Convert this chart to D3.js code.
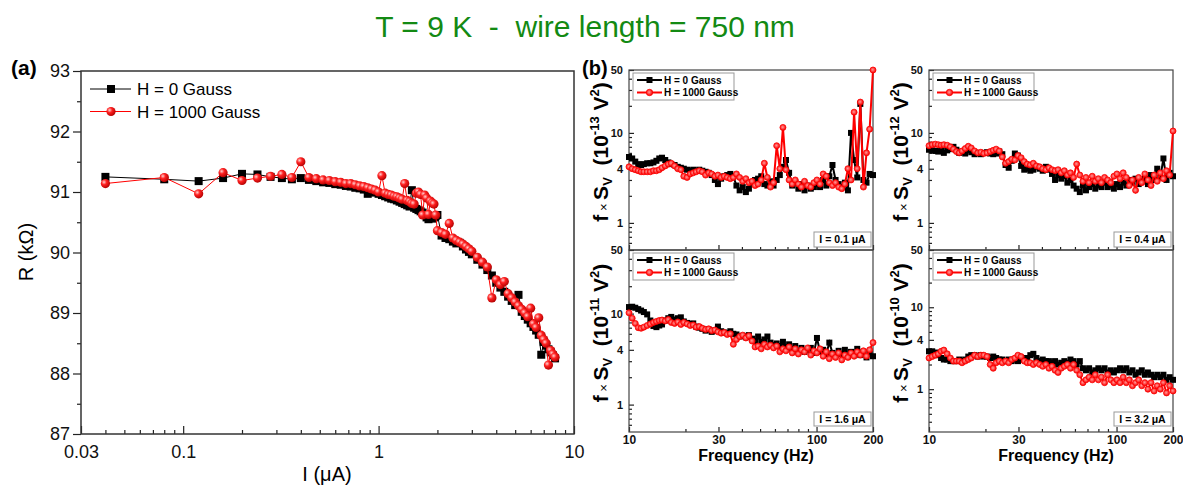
<!DOCTYPE html>
<html>
<head>
<meta charset="utf-8">
<script src="https://cdnjs.cloudflare.com/ajax/libs/d3/7.8.5/d3.min.js"></script>
<style>
  body { margin: 0; background: #fff; }
  svg { font-family: Arial, "Liberation Sans", sans-serif; }
  text { white-space: pre; }
</style>
</head>
<body>
<svg id="chart" width="1183" height="487"></svg>
<script>
// ---- panel (a): resistance vs current
const currentA = [
  0.04, 0.08, 0.12, 0.16, 0.20, 0.24, 0.28, 0.32, 0.36, 0.40,
  0.44, 0.48, 0.52, 0.56, 0.60, 0.64, 0.68, 0.72, 0.76, 0.80,
  0.84, 0.88, 0.92, 0.96, 1.00, 1.04, 1.08, 1.12, 1.16, 1.20,
  1.24, 1.28, 1.32, 1.36, 1.40, 1.44, 1.48, 1.52, 1.56, 1.60,
  1.64, 1.68, 1.72, 1.76, 1.80, 1.84, 1.88, 1.92, 1.96, 2.00,
  2.1, 2.2, 2.3, 2.4, 2.5, 2.6, 2.7, 2.8, 2.9, 3.0,
  3.2, 3.4, 3.6, 3.8, 4.0, 4.2, 4.4, 4.6, 4.8, 5.0,
  5.2, 5.4, 5.6, 5.8, 6.0, 6.2, 6.4, 6.6, 6.8, 7.0,
  7.2, 7.4, 7.6, 7.8, 8.0
];
const rZeroField = [
  91.25, 91.21, 91.18, 91.23, 91.30, 91.29, 91.25, 91.23, 91.21, 91.23,
  91.20, 91.18, 91.16, 91.15, 91.13, 91.12, 91.10, 91.09, 91.07, 91.06,
  91.04, 90.97, 91.01, 90.99, 90.97, 90.95, 90.93, 90.91, 90.89, 90.88,
  90.86, 90.84, 90.82, 90.80, 90.78, 90.76, 91.03, 90.74, 90.72, 90.70,
  90.68, 90.66, 90.62, 90.58, 90.55, 90.57, 90.56, 90.58, 90.60, 90.62,
  90.28, 90.24, 90.22, 90.18, 90.15, 90.16, 90.10, 90.05, 90.01, 89.97,
  89.88, 89.80, 89.71, 89.62, 89.50, 89.42, 89.35, 89.27, 89.20, 89.13,
  89.30, 89.02, 88.95, 88.89, 88.83, 88.77, 88.71, 88.64, 88.31, 88.52,
  88.46, 88.40, 88.35, 88.30, 88.25
];
const rHighField = [
  91.14, 91.24, 90.97, 91.32, 91.19, 91.23, 91.26, 91.29, 91.24, 91.50,
  91.24, 91.22, 91.20, 91.19, 91.17, 91.16, 91.14, 91.14, 91.12, 91.10,
  91.09, 91.07, 91.05, 91.03, 91.00, 91.27, 90.98, 90.96, 90.95, 90.93,
  90.92, 90.90, 90.88, 91.14, 90.86, 90.84, 90.81, 90.80, 90.98, 91.00,
  90.96, 90.62, 90.95, 90.90, 90.63, 90.85, 90.82, 90.80, 90.62, 90.36,
  90.33, 90.30, 90.48, 90.24, 90.20, 90.17, 90.14, 90.10, 90.06, 90.02,
  89.92, 89.84, 89.76, 89.25, 89.55, 89.47, 89.52, 89.32, 89.25, 89.18,
  89.12, 89.06, 89.00, 88.94, 89.08, 88.82, 88.76, 88.92, 88.63, 88.56,
  88.50, 88.14, 88.38, 88.32, 88.27
];
const xTicksA = [0.03, 0.1, 1, 10];
const xMinorA = [0.04, 0.05, 0.06, 0.07, 0.08, 0.09, 0.2, 0.3, 0.4, 0.5, 0.6, 0.7, 0.8, 0.9, 2, 3, 4, 5, 6, 7, 8, 9];
const yTicksA = [87, 88, 89, 90, 91, 92, 93];
const yMinorA = [87.5, 88.5, 89.5, 90.5, 91.5, 92.5];
const legendLabels = ["H = 0 Gauss", "H = 1000 Gauss"];

// ---- panel (b): noise spectra
const freqHz = [
  10.0, 10.4, 10.8, 11.2, 11.6, 12.0, 12.5, 13.0, 13.5, 14.0,
  14.5, 15.0, 15.6, 16.2, 16.8, 17.5, 18.2, 18.9, 19.6, 20.4,
  21.2, 22.0, 22.8, 23.7, 24.6, 25.6, 26.6, 27.6, 28.7, 29.8,
  31.0, 32.2, 33.4, 34.7, 36.0, 37.4, 38.9, 40.4, 42.0, 43.6,
  45.3, 47.0, 48.8, 50.7, 52.7, 54.7, 56.8, 59.0, 61.3, 63.7,
  66.2, 68.7, 71.4, 74.2, 77.0, 80.0, 83.1, 86.3, 89.7, 93.2,
  96.8, 100.5, 104.4, 108.5, 112.7, 117.0, 121.6, 126.3, 131.2, 136.3,
  141.6, 147.0, 152.7, 158.6, 164.8, 171.2, 177.8, 184.7, 191.9, 200
];
// I = 0.1 uA  (x 1e-13 V^2)
const sv01Zero = [
  5.4, 5.2, 4.8, 4.5, 4.4, 4.5, 4.6, 4.6, 4.7, 4.9,
  5.2, 5.3, 5.0, 4.7, 4.5, 4.4, 4.2, 4.1, 4.0, 3.9,
  3.8, 3.9, 3.8, 3.9, 3.8, 3.7, 3.6, 3.4, 3.0, 2.7,
  3.1, 3.3, 3.4, 3.5, 3.3, 2.6, 2.3, 2.5, 2.2, 2.4,
  2.8, 3.0, 3.1, 3.3, 2.7, 2.6, 2.9, 2.6, 3.0, 3.4,
  4.2, 5.0, 3.6, 2.6, 2.8, 2.4, 2.7, 2.3, 2.6, 2.4,
  2.5, 2.7, 2.5, 3.0, 2.6, 3.3, 4.4, 3.0, 2.7, 2.5,
  2.8, 2.3, 10.0, 5.0, 3.2, 21, 3.0, 2.8, 3.5, 3.4
];
const sv01Field = [
  4.2, 4.0, 3.9, 3.8, 3.7, 3.7, 3.7, 3.7, 3.8, 3.8,
  3.9, 4.1, 4.3, 4.5, 4.6, 4.3, 4.0, 3.9, 3.3, 3.2,
  3.5, 3.6, 3.7, 3.8, 3.7, 3.4, 3.6, 3.5, 3.3, 3.4,
  3.2, 3.3, 3.2, 3.1, 3.2, 3.5, 3.2, 2.9, 3.1, 2.8,
  2.9, 2.6, 2.7, 3.0, 4.6, 3.2, 2.5, 2.8, 7.2, 4.0,
  11.5, 3.9, 3.0, 2.7, 3.0, 2.7, 2.5, 2.9, 2.6, 2.5,
  2.8, 3.0, 2.7, 3.5, 3.3, 2.8, 2.6, 2.8, 2.5, 2.4,
  2.7, 4.0, 3.0, 17, 4.0, 22, 2.5, 6.0, 11, 50
];
// I = 0.4 uA  (x 1e-12 V^2)
const sv04Zero = [
  6.5, 6.4, 6.3, 6.2, 6.3, 6.0, 6.4, 6.6, 7.0, 6.5,
  6.0, 6.2, 5.9, 6.4, 6.1, 5.8, 6.0, 5.8, 6.0, 6.1,
  5.9, 5.8, 5.9, 6.2, 5.8, 4.4, 4.1, 4.9, 5.9, 5.6,
  4.3, 3.9, 4.0, 3.8, 3.9, 4.2, 4.0, 3.8, 4.2, 3.9,
  3.5, 3.0, 3.4, 3.1, 3.3, 2.8, 3.0, 2.6, 2.4, 2.2,
  2.6, 2.3, 2.5, 2.7, 2.4, 2.6, 2.5, 2.8, 2.5, 2.6,
  2.4, 2.7, 2.5, 2.8, 2.6, 3.0, 2.8, 3.1, 2.7, 2.9,
  3.1, 2.7, 3.4, 3.0, 4.0, 3.2, 5.2, 3.0, 3.6, 3.3
];
const sv04Field = [
  7.2, 7.4, 7.5, 7.4, 7.3, 7.4, 7.3, 7.0, 6.6, 6.2,
  6.0, 6.3, 6.7, 7.1, 6.8, 6.3, 6.0, 6.1, 5.9, 6.0,
  6.2, 6.4, 6.6, 6.3, 5.4, 4.6, 4.8, 5.1, 5.0, 5.6,
  5.3, 4.8, 4.5, 4.4, 4.6, 4.3, 4.2, 4.0, 3.9, 4.1,
  3.9, 3.8, 3.9, 3.6, 3.8, 3.4, 3.6, 3.2, 4.5, 3.4,
  2.9, 3.2, 2.8, 3.3, 2.9, 3.1, 2.8, 3.2, 3.0, 2.8,
  3.3, 3.5, 3.1, 3.6, 3.2, 2.6, 3.0, 2.3, 3.2, 2.8,
  3.5, 3.0, 2.6, 3.4, 2.9, 3.6, 3.1, 3.8, 3.4, 10.5
];
// I = 1.6 uA  (x 1e-11 V^2)
const sv16Zero = [
  11.8, 11.9, 11.6, 11.2, 10.8, 10.4, 9.8, 8.4, 7.3, 7.1,
  7.4, 7.6, 8.4, 8.9, 9.2, 8.6, 8.9, 9.1, 8.2, 7.9,
  7.7, 7.8, 7.2, 7.0, 6.8, 6.5, 6.7, 6.3, 6.5, 7.2,
  6.4, 6.2, 6.1, 6.4, 6.0, 5.9, 5.6, 5.7, 5.5, 5.8,
  5.3, 5.0, 5.6, 4.9, 5.2, 5.6, 4.8, 4.5, 4.7, 4.4,
  4.9, 4.3, 4.6, 4.1, 4.4, 3.9, 4.2, 3.8, 4.0, 4.2,
  3.7, 5.4, 3.8, 4.0, 3.6, 4.8, 3.7, 3.5, 3.9, 3.6,
  4.0, 3.4, 3.8, 3.6, 4.1, 3.5, 3.8, 3.3, 3.6, 3.4
];
const sv16Field = [
  10.2, 8.9, 7.8, 7.0, 6.9, 7.1, 7.4, 7.7, 8.0, 8.2,
  8.4, 8.5, 8.3, 8.6, 8.0, 7.8, 8.1, 7.6, 8.0, 7.7,
  7.4, 7.5, 7.1, 7.2, 6.9, 6.7, 6.8, 6.5, 6.6, 6.3,
  6.1, 6.2, 5.9, 6.0, 4.6, 5.2, 5.6, 5.8, 5.4, 5.7,
  5.0, 4.3, 4.4, 4.1, 4.6, 4.3, 4.5, 4.2, 4.4, 3.8,
  4.1, 3.9, 4.3, 3.7, 4.1, 3.6, 4.0, 3.8, 4.2, 3.5,
  3.9, 3.7, 4.1, 3.4, 3.8, 3.2, 3.6, 3.3, 3.7, 3.1,
  3.5, 3.3, 3.7, 3.4, 3.8, 3.5, 3.9, 3.4, 4.0, 4.8
];
// I = 3.2 uA  (x 1e-10 V^2)
const sv32Zero = [
  2.9, 2.9, 2.8, 2.6, 2.4, 2.3, 2.3, 2.2, 2.2, 2.2,
  2.3, 2.2, 2.3, 2.5, 2.6, 2.6, 2.5, 2.6, 2.5, 2.5,
  2.4, 2.5, 2.4, 2.3, 2.3, 2.2, 2.3, 2.2, 2.3, 2.2,
  2.3, 2.4, 2.4, 2.6, 2.7, 2.4, 2.2, 2.3, 2.2, 2.2,
  2.1, 2.2, 2.0, 2.1, 2.2, 2.1, 2.3, 2.2, 2.0, 2.2,
  1.8, 1.7, 1.8, 1.6, 1.7, 1.8, 1.7, 1.8, 1.6, 1.7,
  1.6, 1.7, 1.8, 1.7, 1.8, 1.6, 1.7, 1.5, 1.6, 1.7,
  1.5, 1.6, 1.5, 1.4, 1.5, 1.4, 1.5, 1.3, 1.4, 1.3
];
const sv32Field = [
  2.4, 2.5, 2.6, 2.7, 2.9, 3.0, 2.7, 2.4, 2.2, 2.2,
  2.2, 2.1, 2.2, 2.3, 2.4, 2.6, 2.5, 2.6, 2.6, 2.5,
  2.0, 1.8, 2.1, 2.2, 2.1, 2.2, 2.1, 2.3, 2.4, 2.6,
  2.5, 2.2, 2.1, 2.1, 2.0, 2.1, 2.0, 1.9, 2.0, 1.8,
  1.9, 1.7, 1.6, 1.8, 1.9, 2.0, 1.8, 2.0, 1.7, 1.5,
  1.2, 1.3, 1.4, 1.3, 1.5, 1.3, 1.4, 1.2, 1.5, 1.3,
  1.2, 1.3, 1.2, 1.4, 1.2, 1.3, 1.1, 1.2, 1.3, 1.1,
  1.2, 1.0, 1.2, 0.95, 1.1, 1.0, 1.2, 0.9, 1.1, 0.95
];
const currentLabels = ["I = 0.1 μA", "I = 0.4 μA", "I = 1.6 μA", "I = 3.2 μA"];
const unitExponents = ["-13", "-12", "-11", "-10"];
const xTicksB = [10, 30, 100, 200];
const xMinorB = [20, 40, 50, 60, 70, 80, 90];
const yTicksB = [1, 4, 10, 50];
const yMinorB = [0.3, 0.4, 0.5, 0.6, 0.7, 0.8, 0.9, 2, 3, 5, 6, 7, 8, 9, 20, 30, 40];

const svg = d3.select("#chart");
const defs = svg.append("defs");
const ball = defs.append("radialGradient").attr("id", "ballA")
  .attr("cx", "35%").attr("cy", "35%").attr("r", "70%");
ball.append("stop").attr("offset", "0%").attr("stop-color", "#ffd0d0");
ball.append("stop").attr("offset", "40%").attr("stop-color", "#ff2020");
ball.append("stop").attr("offset", "100%").attr("stop-color", "#b00000");
const ballB = defs.append("radialGradient").attr("id", "ballB")
  .attr("cx", "45%").attr("cy", "45%").attr("r", "60%");
ballB.append("stop").attr("offset", "0%").attr("stop-color", "#ff9a9a");
ballB.append("stop").attr("offset", "60%").attr("stop-color", "#ff3030");
ballB.append("stop").attr("offset", "100%").attr("stop-color", "#e00000");

// title
svg.append("text")
  .attr("x", 585).attr("y", 37)
  .attr("text-anchor", "middle")
  .attr("font-size", 30)
  .attr("fill", "#138a13")
  .text("T = 9 K  -  wire length = 750 nm");

// ================= panel (a) =================
const xA = d3.scaleLog().domain([0.03, 10]).range([81, 574]);
const yA = d3.scaleLinear().domain([87, 93]).range([434, 71]);
const gA = svg.append("g");

function styleAxis(sel, size, weight) {
  sel.select(".domain").remove();
  sel.selectAll("line").attr("stroke", "#222").attr("stroke-width", 1.2);
  sel.selectAll("text").attr("font-size", size).attr("font-weight", weight)
    .attr("font-family", "Arial, 'Liberation Sans', sans-serif").attr("fill", "#111");
}

gA.append("g").attr("transform", "translate(0,434)")
  .call(d3.axisBottom(xA).tickValues(xTicksA).tickSizeInner(-8).tickSizeOuter(0).tickPadding(11)
    .tickFormat(d => String(d)))
  .call(s => styleAxis(s, 18, "normal"));
gA.append("g").attr("transform", "translate(0,434)")
  .call(d3.axisBottom(xA).tickValues(xMinorA).tickSizeInner(-4).tickSizeOuter(0).tickFormat(""))
  .call(s => styleAxis(s, 18, "normal"));
gA.append("g").attr("transform", "translate(81,0)")
  .call(d3.axisLeft(yA).tickValues(yTicksA).tickSizeInner(8).tickSizeOuter(0).tickPadding(3)
    .tickFormat(d => String(d)))
  .call(s => styleAxis(s, 18, "normal"));
gA.append("g").attr("transform", "translate(81,0)")
  .call(d3.axisLeft(yA).tickValues(yMinorA).tickSizeInner(4).tickSizeOuter(0).tickFormat(""))
  .call(s => styleAxis(s, 18, "normal"));

gA.append("rect").attr("x", 81).attr("y", 71).attr("width", 493).attr("height", 363)
  .attr("fill", "none").attr("stroke", "#333").attr("stroke-width", 1.5);

const lineA = d3.line().x(d => xA(d[0])).y(d => yA(d[1]));
const ptsZero = currentA.map((c, i) => [c, rZeroField[i]]);
const ptsHigh = currentA.map((c, i) => [c, rHighField[i]]);

gA.append("path").attr("d", lineA(ptsZero)).attr("fill", "none").attr("stroke", "#000").attr("stroke-width", 1);
gA.selectAll(".sqA").data(ptsZero).join("rect").attr("class", "sqA")
  .attr("x", d => xA(d[0]) - 4).attr("y", d => yA(d[1]) - 4)
  .attr("width", 8).attr("height", 8).attr("fill", "#000");
gA.append("path").attr("d", lineA(ptsHigh)).attr("fill", "none").attr("stroke", "#f00").attr("stroke-width", 1);
gA.selectAll(".ciA").data(ptsHigh).join("circle").attr("class", "ciA")
  .attr("cx", d => xA(d[0])).attr("cy", d => yA(d[1])).attr("r", 4.6)
  .attr("fill", "url(#ballA)");

// legend (a)
[0, 1].forEach(i => {
  const ly = 89 + i * 22.5;
  gA.append("line").attr("x1", 90).attr("x2", 131).attr("y1", ly).attr("y2", ly)
    .attr("stroke", i ? "#f00" : "#000").attr("stroke-width", 1);
  if (i) gA.append("circle").attr("cx", 111).attr("cy", ly).attr("r", 4.6).attr("fill", "url(#ballA)");
  else gA.append("rect").attr("x", 107).attr("y", ly - 4).attr("width", 8).attr("height", 8).attr("fill", "#000");
  gA.append("text").attr("x", 137).attr("y", ly + 6).attr("font-size", 17).text(legendLabels[i]);
});

gA.append("text").attr("x", 11).attr("y", 75).attr("font-size", 21).attr("font-weight", "bold").text("(a)");
gA.append("text").attr("transform", "translate(33,252) rotate(-90)").attr("text-anchor", "middle")
  .attr("font-size", 20).text("R (kΩ)");
gA.append("text").attr("x", 327).attr("y", 481).attr("text-anchor", "middle")
  .attr("font-size", 20).text("I (μA)");

// ================= panel (b) =================
const colLeft = [629, 929];
const rowTop = [70, 250];
const rowHeight = [180, 182];
const plotW = 244;
const yLow = [[0.5, 0.5], [0.5, 0.3]];
const spectra = [[sv01Zero, sv01Field], [sv04Zero, sv04Field], [sv16Zero, sv16Field], [sv32Zero, sv32Field]];

svg.append("text").attr("x", 582).attr("y", 75).attr("font-size", 20).attr("font-weight", "bold").text("(b)");

spectra.forEach((pair, k) => {
  const row = Math.floor(k / 2), col = k % 2;
  const L = colLeft[col], T = rowTop[row], H = rowHeight[row];
  const x = d3.scaleLog().domain([10, 200]).range([L, L + plotW]);
  const y = d3.scaleLog().domain([yLow[row][col], 50]).range([T + H, T]);
  const g = svg.append("g");

  g.append("g").attr("transform", `translate(0,${T + H})`)
    .call(d3.axisBottom(x).tickValues(xTicksB).tickSizeInner(-5).tickSizeOuter(0).tickPadding(3)
      .tickFormat(row ? d => String(d) : ""))
    .call(s => styleAxis(s, 12, "bold"));
  g.append("g").attr("transform", `translate(0,${T + H})`)
    .call(d3.axisBottom(x).tickValues(xMinorB).tickSizeInner(-3).tickSizeOuter(0).tickFormat(""))
    .call(s => styleAxis(s, 12, "bold"));
  g.append("g").attr("transform", `translate(${L},0)`)
    .call(d3.axisLeft(y).tickValues(yTicksB).tickSizeInner(-5).tickSizeOuter(0).tickPadding(6)
      .tickFormat(d => String(d)))
    .call(s => styleAxis(s, 11, "bold"));
  g.append("g").attr("transform", `translate(${L},0)`)
    .call(d3.axisLeft(y).tickValues(yMinorB.filter(v => v > y.domain()[0])).tickSizeInner(-3).tickSizeOuter(0).tickFormat(""))
    .call(s => styleAxis(s, 11, "bold"));

  g.append("rect").attr("x", L).attr("y", T).attr("width", plotW).attr("height", H)
    .attr("fill", "none").attr("stroke", "#444").attr("stroke-width", 1.2);

  const line = d3.line().x(d => x(d[0])).y(d => y(d[1]));
  const p0 = freqHz.map((f, i) => [f, pair[0][i]]);
  const p1 = freqHz.map((f, i) => [f, pair[1][i]]);
  g.append("path").attr("d", line(p0)).attr("fill", "none").attr("stroke", "#000").attr("stroke-width", 2);
  g.selectAll(".sq").data(p0).join("rect").attr("class", "sq")
    .attr("x", d => x(d[0]) - 3).attr("y", d => y(d[1]) - 3)
    .attr("width", 6).attr("height", 6).attr("fill", "#000");
  g.append("path").attr("d", line(p1)).attr("fill", "none").attr("stroke", "#f00").attr("stroke-width", 2);
  g.selectAll(".ci").data(p1).join("circle").attr("class", "ci")
    .attr("cx", d => x(d[0])).attr("cy", d => y(d[1])).attr("r", 3)
    .attr("fill", "url(#ballB)").attr("stroke", "#f00").attr("stroke-width", 0.8);

  // legend box
  g.append("rect").attr("x", L + 4).attr("y", T + 3).attr("width", 101).attr("height", 27)
    .attr("fill", "#fff").attr("stroke", "#999").attr("stroke-width", 1);
  [0, 1].forEach(i => {
    const ly = T + 10 + i * 12.5;
    g.append("line").attr("x1", L + 8).attr("x2", L + 33).attr("y1", ly).attr("y2", ly)
      .attr("stroke", i ? "#f00" : "#000").attr("stroke-width", 2);
    if (i) g.append("circle").attr("cx", L + 20.5).attr("cy", ly).attr("r", 3.2)
      .attr("fill", "url(#ballB)").attr("stroke", "#f00").attr("stroke-width", 0.8);
    else g.append("rect").attr("x", L + 17.5).attr("y", ly - 3).attr("width", 6).attr("height", 6).attr("fill", "#000");
    g.append("text").attr("x", L + 35).attr("y", ly + 3.6).attr("font-size", 10).attr("font-weight", "bold")
      .text(legendLabels[i]);
  });

  // current annotation box
  const bh = row ? 14 : 15;
  const by = T + H - (row ? 6 : 3) - bh;
  g.append("rect").attr("x", L + plotW - 59).attr("y", by).attr("width", 57).attr("height", bh)
    .attr("fill", "#fff").attr("stroke", "#999").attr("stroke-width", 1);
  g.append("text").attr("x", L + plotW - 30.5).attr("y", by + bh / 2 + 3.8).attr("text-anchor", "middle")
    .attr("font-size", 10.5).attr("font-weight", "bold").text(currentLabels[k]);

  // y label
  const yl = g.append("text")
    .attr("transform", `translate(${L - 21},${T + H / 2 - 8}) rotate(-90)`)
    .attr("text-anchor", "middle").attr("font-size", 21).attr("font-weight", "bold");
  yl.append("tspan").text("f");
  yl.append("tspan").attr("font-size", 13).attr("font-weight", "normal").text(" × ");
  yl.append("tspan").text("S");
  yl.append("tspan").attr("font-size", 13).attr("dy", 4).text("V");
  yl.append("tspan").attr("dy", -4).text("  (10");
  yl.append("tspan").attr("font-size", 13).attr("dy", -9).text(unitExponents[k]);
  yl.append("tspan").attr("dy", 9).text(" V");
  yl.append("tspan").attr("font-size", 13).attr("dy", -9).text("2");
  yl.append("tspan").attr("dy", 9).text(")");

  if (row) {
    g.append("text").attr("x", L + plotW / 2 + 5).attr("y", T + H + 29).attr("text-anchor", "middle")
      .attr("font-size", 16).attr("font-weight", "bold").text("Frequency (Hz)");
  }
});
</script>
</body>
</html>
